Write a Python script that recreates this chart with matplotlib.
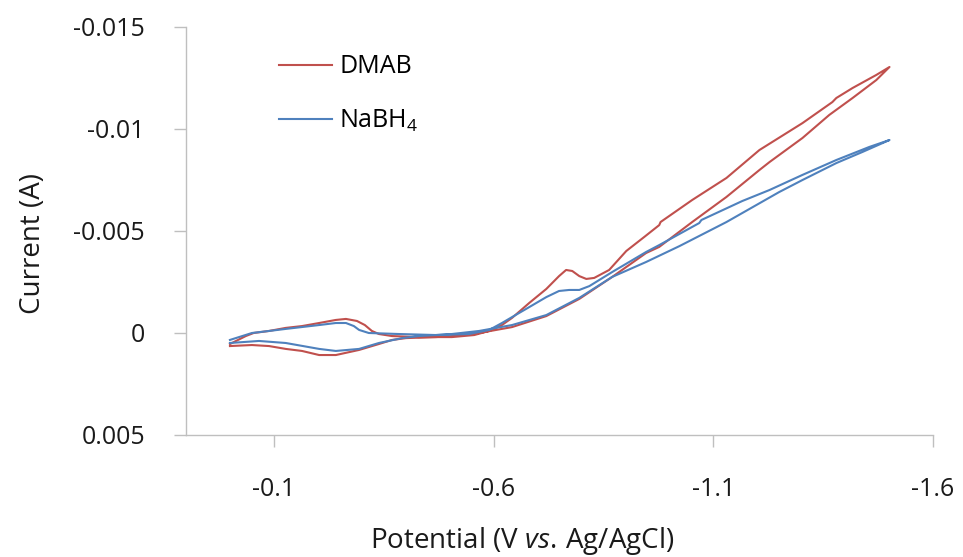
import matplotlib
matplotlib.use("Agg")
import matplotlib.pyplot as plt
from matplotlib import font_manager

# ---- data (potential in V, current in A) ----
dmab_v = [0.000, -0.036, -0.054, -0.089, -0.127, -0.164, -0.203, -0.241, -0.264, -0.289,
          -0.307, -0.323, -0.339, -0.369, -0.430, -0.505, -0.556, -0.590, -0.619, -0.642,
          -0.681, -0.720, -0.749, -0.765, -0.779, -0.795, -0.811, -0.829, -0.863, -0.902,
          -0.943, -0.977, -0.980, -1.052, -1.130, -1.205, -1.303, -1.371, -1.380, -1.417,
          -1.471, -1.501,
          -1.471, -1.417, -1.364, -1.303, -1.228, -1.205, -1.130, -1.052, -0.977, -0.947,
          -0.870, -0.795, -0.720, -0.642, -0.567, -0.505, -0.469, -0.401, -0.369, -0.339,
          -0.294, -0.241, -0.203, -0.164, -0.127, -0.089, -0.050, 0.000]
dmab_i = [0.00054, 0.00015, 0.00000, -0.00010, -0.00025, -0.00034, -0.00049, -0.00064, -0.00069, -0.00059,
          -0.00039, -0.00010, 0.00005, 0.00015, 0.00020, 0.00020, 0.00010, -0.00010, -0.00039, -0.00074,
          -0.00147, -0.00216, -0.00279, -0.00309, -0.00304, -0.00279, -0.00265, -0.00270, -0.00309, -0.00402,
          -0.00471, -0.00529, -0.00544, -0.00652, -0.00760, -0.00897, -0.01029, -0.01132, -0.01152, -0.01201,
          -0.01265, -0.01304,
          -0.01240, -0.01152, -0.01069, -0.00956, -0.00838, -0.00799, -0.00667, -0.00544, -0.00422, -0.00392,
          -0.00275, -0.00167, -0.00083, -0.00029, 0.00000, 0.00015, 0.00020, 0.00025, 0.00034, 0.00054,
          0.00083, 0.00108, 0.00108, 0.00088, 0.00078, 0.00064, 0.00059, 0.00064]

nabh4_v = [0.000, -0.050, -0.089, -0.127, -0.203, -0.241, -0.264, -0.282, -0.294, -0.316,
           -0.385, -0.469, -0.544, -0.590, -0.619, -0.642, -0.674, -0.720, -0.749, -0.772,
           -0.795, -0.818, -0.870, -0.947, -0.977, -1.068, -1.073, -1.166, -1.228, -1.303,
           -1.380, -1.455, -1.501,
           -1.439, -1.380, -1.303, -1.250, -1.130, -1.023, -0.947, -0.870, -0.795, -0.720,
           -0.642, -0.567, -0.505, -0.430, -0.392, -0.339, -0.294, -0.241, -0.203, -0.127,
           -0.066, 0.000]
nabh4_i = [0.00034, 0.00000, -0.00010, -0.00020, -0.00039, -0.00049, -0.00049, -0.00034, -0.00015, 0.00000,
           0.00005, 0.00010, 0.00005, -0.00015, -0.00049, -0.00078, -0.00118, -0.00176, -0.00206, -0.00211,
           -0.00211, -0.00230, -0.00299, -0.00397, -0.00431, -0.00539, -0.00554, -0.00647, -0.00701, -0.00775,
           -0.00848, -0.00912, -0.00946,
           -0.00887, -0.00833, -0.00750, -0.00691, -0.00544, -0.00426, -0.00348, -0.00275, -0.00172, -0.00088,
           -0.00039, -0.00010, 0.00005, 0.00015, 0.00025, 0.00049, 0.00078, 0.00088, 0.00078, 0.00049,
           0.00039, 0.00049]

x_ticks = [-0.1, -0.6, -1.1, -1.6]
x_labels = ["-0.1", "-0.6", "-1.1", "-1.6"]
y_ticks = [-0.015, -0.01, -0.005, 0, 0.005]
y_labels = ["-0.015", "-0.01", "-0.005", "0", "0.005"]

RED = "#C0504D"
BLUE = "#4F81BD"
GREY = "#BFBFBF"

names = {f.name for f in font_manager.fontManager.ttflist}
FONT = "Open Sans" if "Open Sans" in names else "DejaVu Sans"
plt.rcParams["font.family"] = [FONT, "DejaVu Sans"]
plt.rcParams["mathtext.fontset"] = "custom"
plt.rcParams["mathtext.rm"] = FONT
plt.rcParams["mathtext.it"] = FONT + ":italic"

fig = plt.figure(figsize=(9.63, 5.57), dpi=100)
ax = fig.add_axes([186/963, 1-435/557, 747/963, 408/557])

ax.plot(dmab_v, dmab_i, color=RED, lw=1.5, label="DMAB")
ax.plot(nabh4_v, nabh4_i, color=BLUE, lw=1.5, label="NaBH$_4$")

ax.set_xlim(0.1, -1.6)
ax.set_ylim(0.005, -0.015)
ax.set_xticks(x_ticks)
ax.set_xticklabels(x_labels)
ax.set_yticks(y_ticks)
ax.set_yticklabels(y_labels)

for s in ["top", "right"]:
    ax.spines[s].set_visible(False)
for s in ["left", "bottom"]:
    ax.spines[s].set_color(GREY)
    ax.spines[s].set_linewidth(1.0)
ax.tick_params(axis="both", direction="out", length=8.6, width=1.0, color=GREY,
               labelsize=18, labelcolor="#1a1a1a")
ax.tick_params(axis="y", pad=21)
ax.tick_params(axis="x", pad=22)

ax.set_xlabel("Potential (V $\\it{vs.}\\,$Ag/AgCl)", fontsize=20, color="#1a1a1a", va="center")
ax.xaxis.set_label_coords(0.45, -0.26)
ax.set_ylabel("Current (A)", fontsize=20, color="#1a1a1a", va="center")
ax.yaxis.set_label_coords(-0.205, 0.47)

ax.legend(loc="center left", bbox_to_anchor=(0.125, 0.835), frameon=False, fontsize=18,
          handlelength=2.1, handletextpad=0.3, labelspacing=1.15, borderpad=0, borderaxespad=0)

fig.savefig("out.png", dpi=100)
